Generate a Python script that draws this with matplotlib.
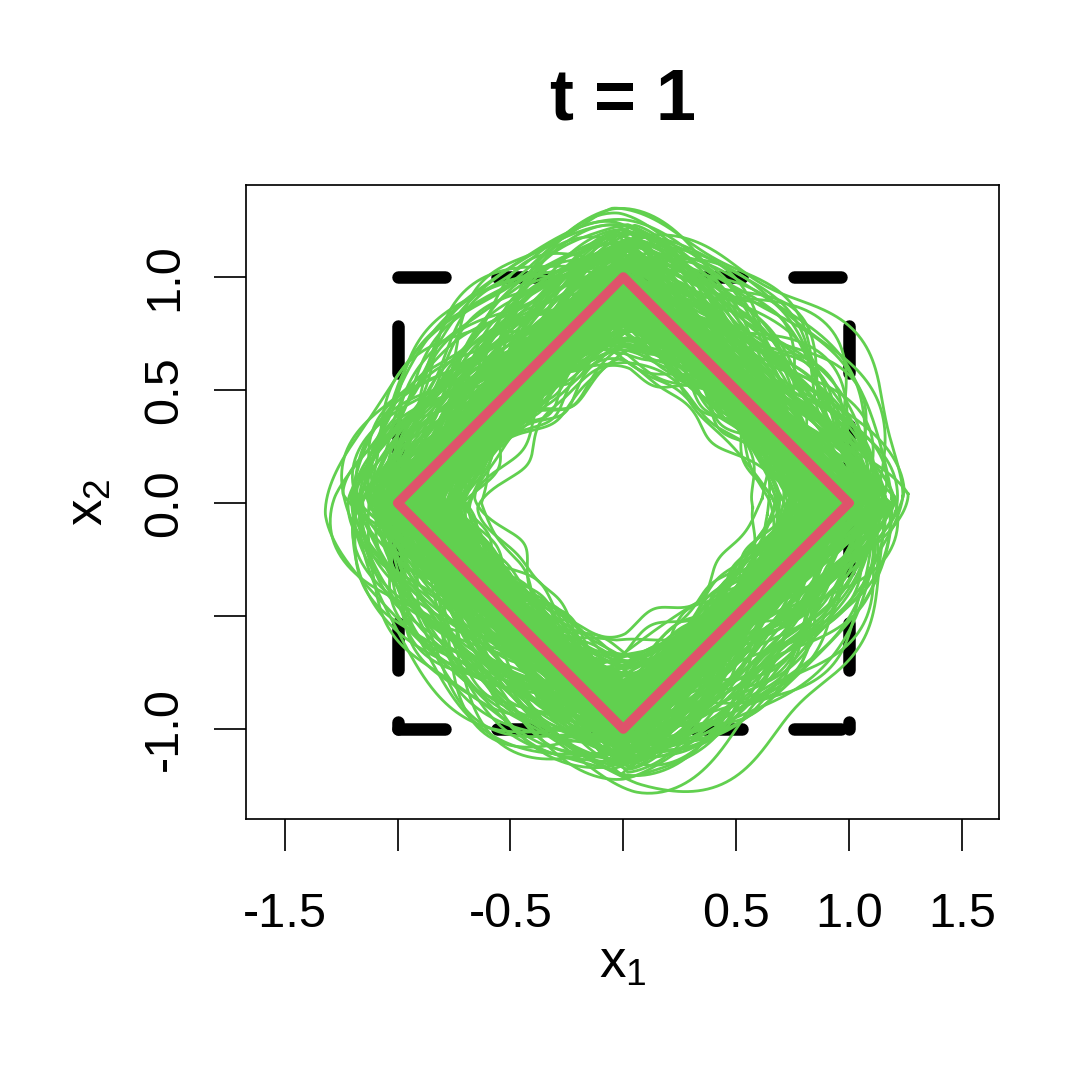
import numpy as np
import matplotlib
matplotlib.use("Agg")
import matplotlib.pyplot as plt
from matplotlib.transforms import blended_transform_factory

# ---------------- data ----------------
title_text = "t = 1"
x_ticks = [-1.5, -1.0, -0.5, 0.0, 0.5, 1.0, 1.5]
x_tick_labels = ["-1.5", "", "-0.5", "", "0.5", "1.0", "1.5"]
y_ticks = [-1.0, -0.5, 0.0, 0.5, 1.0]
y_tick_labels = ["-1.0", "", "0.0", "0.5", "1.0"]

# true curve (diamond) and bounding square
diamond_x = [1.0, 0.0, -1.0, 0.0, 1.0]
diamond_y = [0.0, 1.0, 0.0, -1.0, 0.0]
square_x = [-1.0, 1.0, 1.0, -1.0]
square_y = [1.0, 1.0, -1.0, -1.0]

# ---- group A of sampled closed curves (harmonics 2, 3, 5, 9) ----
scale = [0.95, 1.02, 0.88, 1.08, 0.92, 0.99, 1.05, 0.84, 0.97, 1.10,
         0.90, 1.03, 0.86, 0.94, 1.07, 0.81, 1.00, 0.93, 1.12, 0.89,
         0.96, 0.78, 1.04, 0.91, 0.99, 1.09, 0.87, 0.95, 1.01, 0.83,
         0.98, 1.06, 0.92, 0.74, 1.03, 0.90, 0.97, 1.11, 0.85, 0.94,
         1.00, 0.88, 1.05, 0.93, 0.80, 1.08, 0.96, 0.91, 1.02, 0.86,
         0.70, 0.99, 1.04, 0.89, 0.95, 1.13, 0.84, 0.98, 1.06, 0.92,
         0.64, 1.08, 0.76, 1.18, 0.68, 1.20, 0.62, 1.16, 0.71, 1.15,
         0.94, 1.01, 0.87, 1.07, 0.90, 0.97, 1.03, 0.82, 0.99, 1.10]
roundness = [1.05, 1.10, 1.00, 1.20, 1.15, 1.00, 1.08, 1.25, 1.02, 1.40,
             1.18, 1.00, 1.30, 1.06, 1.10, 1.35, 1.00, 1.14, 1.45, 1.22,
             1.00, 1.20, 1.08, 1.16, 1.03, 1.30, 1.28, 1.00, 1.12, 1.32,
             1.07, 1.00, 1.20, 1.22, 1.04, 1.15, 1.00, 1.50, 1.26, 1.11,
             1.00, 1.24, 1.06, 1.13, 1.38, 1.02, 1.10, 1.18, 1.00, 1.27,
             1.30, 1.05, 1.00, 1.22, 1.12, 1.45, 1.30, 1.00, 1.14, 1.19,
             1.35, 1.60, 1.20, 1.55, 1.30, 1.35, 1.40, 1.60, 1.25, 1.55,
             1.08, 1.00, 1.21, 1.04, 1.16, 1.10, 1.00, 1.28, 1.06, 1.35]
shift_x = [0.02, -0.03, 0.01, -0.05, 0.04, 0.00, -0.02, 0.03, -0.04, 0.05,
           -0.01, 0.02, -0.06, 0.03, 0.00, 0.04, -0.03, 0.01, -0.02, 0.05,
           0.03, -0.04, 0.00, 0.02, -0.05, 0.01, 0.04, -0.02, 0.03, -0.01,
           0.00, 0.05, -0.03, 0.02, -0.04, 0.01, 0.03, -0.06, 0.02, 0.00,
           -0.02, 0.04, 0.01, -0.03, 0.05, -0.01, 0.02, 0.00, -0.04, 0.03,
           0.01, -0.02, 0.04, 0.00, -0.05, 0.02, -0.01, 0.03, 0.00, -0.03,
           0.03, -0.10, 0.02, 0.08, -0.02, -0.05, 0.01, 0.06, 0.04, -0.08,
           0.02, -0.01, 0.03, -0.04, 0.00, 0.05, -0.02, 0.01, -0.03, 0.04]
shift_y = [-0.02, 0.03, 0.00, -0.04, 0.02, 0.05, -0.01, 0.03, -0.03, 0.00,
           0.04, -0.02, 0.01, -0.05, 0.03, 0.00, 0.02, -0.04, 0.01, -0.03,
           0.00, 0.02, -0.03, 0.04, 0.01, -0.05, 0.00, 0.03, -0.02, 0.04,
           0.02, -0.01, 0.04, -0.03, 0.00, 0.03, -0.04, 0.01, 0.05, -0.02,
           0.03, 0.00, -0.02, 0.02, -0.04, 0.01, 0.03, -0.03, 0.00, 0.04,
           -0.03, 0.02, 0.00, -0.01, 0.04, -0.04, 0.02, 0.00, 0.03, -0.02,
           -0.02, -0.06, 0.01, 0.03, -0.04, 0.07, 0.02, -0.05, 0.00, -0.05,
           0.01, 0.03, -0.02, 0.00, 0.04, -0.03, 0.02, -0.01, 0.03, -0.04]
amp2 = [0.03, 0.05, 0.02, 0.06, 0.01, 0.04, 0.07, 0.02, 0.05, 0.03,
        0.06, 0.01, 0.04, 0.08, 0.02, 0.05, 0.03, 0.06, 0.02, 0.04,
        0.05, 0.03, 0.07, 0.01, 0.04, 0.06, 0.02, 0.05, 0.03, 0.08,
        0.02, 0.04, 0.06, 0.03, 0.05, 0.01, 0.07, 0.04, 0.02, 0.06,
        0.04, 0.06, 0.02, 0.05, 0.03, 0.07, 0.01, 0.04, 0.06, 0.02,
        0.05, 0.03, 0.06, 0.02, 0.04, 0.05, 0.03, 0.07, 0.01, 0.04,
        0.06, 0.09, 0.04, 0.05, 0.07, 0.08, 0.05, 0.06, 0.03, 0.07,
        0.03, 0.05, 0.02, 0.06, 0.04, 0.01, 0.05, 0.03, 0.07, 0.02]
phase2 = [0.4, 2.1, 5.0, 1.3, 3.7, 0.9, 4.4, 2.8, 6.0, 1.7,
          3.2, 5.5, 0.2, 2.5, 4.8, 1.1, 3.9, 0.6, 5.2, 2.3,
          4.1, 1.5, 3.0, 5.8, 0.8, 2.7, 4.6, 1.9, 3.5, 6.1,
          1.0, 3.3, 5.6, 0.3, 2.0, 4.3, 1.4, 3.8, 5.1, 2.6,
          5.9, 0.7, 2.4, 4.0, 1.6, 3.1, 5.4, 0.5, 2.9, 4.7,
          1.2, 3.6, 0.1, 2.2, 4.9, 1.8, 3.4, 5.7, 0.9, 2.0,
          2.5, 5.6, 4.2, 0.8, 5.3, 2.0, 1.0, 4.0, 3.0, 5.6,
          0.6, 2.8, 4.5, 1.5, 3.2, 5.0, 0.3, 2.1, 4.1, 1.3]
amp3 = [0.02, 0.04, 0.01, 0.03, 0.05, 0.02, 0.03, 0.04, 0.01, 0.05,
        0.03, 0.02, 0.04, 0.01, 0.03, 0.05, 0.02, 0.04, 0.03, 0.01,
        0.04, 0.03, 0.02, 0.05, 0.01, 0.03, 0.04, 0.02, 0.05, 0.03,
        0.01, 0.04, 0.03, 0.02, 0.05, 0.04, 0.01, 0.03, 0.02, 0.04,
        0.03, 0.05, 0.02, 0.04, 0.03, 0.01, 0.04, 0.05, 0.02, 0.03,
        0.04, 0.02, 0.03, 0.01, 0.05, 0.03, 0.04, 0.02, 0.03, 0.05,
        0.04, 0.05, 0.03, 0.04, 0.05, 0.03, 0.04, 0.05, 0.02, 0.02,
        0.02, 0.03, 0.05, 0.01, 0.04, 0.02, 0.03, 0.04, 0.01, 0.03]
phase3 = [1.1, 4.2, 2.6, 5.7, 0.4, 3.3, 1.9, 4.8, 0.2, 2.9,
          5.1, 0.8, 3.6, 2.2, 4.5, 1.4, 6.0, 2.7, 0.5, 3.9,
          2.0, 5.3, 0.9, 3.1, 4.7, 1.6, 2.4, 5.9, 0.1, 3.5,
          4.0, 1.3, 5.6, 2.8, 0.6, 3.8, 4.9, 1.0, 2.5, 5.2,
          0.3, 2.7, 4.4, 1.8, 5.5, 0.7, 3.0, 4.3, 1.5, 6.1,
          3.4, 0.5, 2.1, 4.6, 1.2, 5.8, 2.9, 0.2, 3.7, 4.1,
          1.7, 4.9, 0.4, 3.2, 2.3, 5.4, 1.1, 3.6, 4.5, 0.9,
          2.2, 5.0, 1.5, 3.9, 0.7, 2.6, 4.8, 1.2, 5.3, 3.0]
amp5 = [0.05, 0.02, 0.07, 0.04, 0.05, 0.08, 0.02, 0.04, 0.07, 0.05,
        0.04, 0.07, 0.05, 0.02, 0.08, 0.04, 0.05, 0.07, 0.04, 0.02,
        0.05, 0.08, 0.04, 0.07, 0.02, 0.05, 0.04, 0.08, 0.05, 0.07,
        0.07, 0.04, 0.02, 0.08, 0.05, 0.04, 0.07, 0.02, 0.05, 0.08,
        0.04, 0.05, 0.08, 0.02, 0.07, 0.05, 0.04, 0.05, 0.08, 0.02,
        0.05, 0.07, 0.04, 0.08, 0.02, 0.04, 0.07, 0.05, 0.02, 0.05,
        0.08, 0.05, 0.07, 0.04, 0.07, 0.05, 0.08, 0.04, 0.07, 0.03,
        0.02, 0.07, 0.04, 0.05, 0.08, 0.04, 0.02, 0.07, 0.05, 0.04]
phase5 = [2.3, 0.7, 4.1, 5.6, 1.5, 3.2, 6.0, 2.8, 0.3, 4.6,
          1.0, 3.7, 5.3, 2.1, 0.5, 4.4, 1.8, 5.9, 3.0, 0.9,
          4.8, 2.5, 0.1, 3.6, 5.0, 1.3, 2.7, 4.2, 0.6, 5.7,
          3.3, 1.1, 4.9, 0.4, 2.9, 5.4, 1.6, 3.8, 0.2, 2.4,
          5.2, 0.8, 3.4, 4.7, 1.9, 6.1, 2.6, 0.5, 4.0, 1.4,
          0.9, 4.3, 2.0, 5.5, 3.1, 0.3, 4.6, 1.7, 5.8, 2.2,
          3.9, 1.2, 5.1, 2.7, 0.6, 4.4, 2.0, 5.3, 1.5, 3.6,
          2.8, 5.0, 0.4, 3.5, 1.9, 4.7, 0.8, 2.3, 5.6, 1.2]
amp9 = [0.025, 0.040, 0.015, 0.030, 0.045, 0.025, 0.040, 0.015, 0.030, 0.045,
        0.030, 0.015, 0.040, 0.045, 0.025, 0.030, 0.015, 0.040, 0.045, 0.025,
        0.040, 0.030, 0.025, 0.015, 0.045, 0.040, 0.030, 0.025, 0.015, 0.040,
        0.015, 0.045, 0.030, 0.040, 0.025, 0.015, 0.045, 0.030, 0.040, 0.025,
        0.045, 0.025, 0.040, 0.030, 0.015, 0.045, 0.025, 0.040, 0.030, 0.015,
        0.030, 0.040, 0.015, 0.025, 0.045, 0.030, 0.040, 0.015, 0.025, 0.045,
        0.040, 0.030, 0.045, 0.025, 0.040, 0.030, 0.045, 0.025, 0.040, 0.010,
        0.025, 0.015, 0.045, 0.040, 0.030, 0.025, 0.015, 0.045, 0.030, 0.040]
phase9 = [0.5, 3.1, 1.8, 4.6, 2.4, 5.7, 0.9, 3.8, 5.2, 1.3,
          2.9, 0.2, 4.3, 1.6, 5.5, 3.4, 0.7, 2.1, 4.9, 6.0,
          1.4, 4.0, 2.7, 0.3, 5.1, 1.9, 3.6, 5.8, 0.8, 2.5,
          4.4, 1.0, 5.9, 3.2, 0.6, 2.2, 4.7, 1.5, 3.9, 5.3,
          2.0, 5.6, 0.4, 3.7, 1.2, 4.1, 2.8, 6.1, 0.1, 3.3,
          5.0, 2.6, 4.5, 0.9, 3.5, 1.7, 5.4, 2.3, 4.8, 0.5,
          3.0, 1.1, 4.2, 5.9, 2.2, 0.7, 3.8, 1.4, 5.5, 2.9,
          1.6, 4.9, 0.2, 2.6, 5.3, 3.5, 1.0, 4.4, 2.0, 5.8]

# ---- group B of sampled closed curves (harmonics 2, 4, 6, 8) ----
band_scale = [0.80, 0.86, 0.92, 0.98, 1.04, 1.10, 0.83, 0.89, 0.95, 1.01,
              1.07, 1.14, 0.78, 0.85, 0.91, 0.97, 1.03, 1.09, 0.82, 0.88,
              0.94, 1.00, 1.06, 1.12, 0.79, 0.87, 0.93, 0.99, 1.05, 1.11,
              0.81, 0.84, 0.90, 0.96, 1.02, 1.08, 1.16, 0.77, 0.86, 0.92,
              0.98, 1.04, 1.10, 0.83, 0.89, 0.95, 1.01, 1.07, 1.13, 0.80,
              0.85, 0.91, 0.97, 1.03, 1.09, 0.76, 0.88, 0.94, 1.00, 1.06,
              1.15, 0.82, 0.87, 0.93, 0.99, 1.05, 1.11, 0.79, 0.84, 0.90,
              0.96, 1.02, 1.08, 1.17, 0.81, 0.86, 0.92, 0.98, 1.04, 1.10,
              0.75, 0.83, 0.89, 0.95, 1.01, 1.07, 1.13, 0.80, 0.90, 1.00]
band_round = [1.30, 1.20, 1.10, 1.05, 1.00, 1.08, 1.25, 1.15, 1.02, 1.00,
              1.06, 1.12, 1.35, 1.22, 1.12, 1.04, 1.00, 1.10, 1.28, 1.18,
              1.06, 1.00, 1.03, 1.15, 1.32, 1.20, 1.08, 1.00, 1.05, 1.18,
              1.26, 1.24, 1.14, 1.02, 1.00, 1.09, 1.22, 1.38, 1.19, 1.10,
              1.00, 1.04, 1.12, 1.27, 1.16, 1.06, 1.00, 1.07, 1.20, 1.30,
              1.21, 1.13, 1.03, 1.00, 1.11, 1.40, 1.17, 1.05, 1.00, 1.08,
              1.25, 1.26, 1.19, 1.09, 1.00, 1.02, 1.14, 1.33, 1.23, 1.12,
              1.04, 1.00, 1.10, 1.28, 1.29, 1.20, 1.11, 1.01, 1.03, 1.15,
              1.42, 1.24, 1.16, 1.06, 1.00, 1.09, 1.21, 1.31, 1.13, 1.02]
band_shift_x = [0.03, -0.02, 0.01, -0.04, 0.05, 0.00, -0.03, 0.02, -0.01, 0.04,
                -0.05, 0.02, 0.00, 0.03, -0.02, 0.04, -0.04, 0.01, 0.05, -0.03,
                0.00, -0.01, 0.04, -0.05, 0.02, 0.03, -0.02, 0.05, -0.04, 0.01,
                0.02, 0.04, -0.03, 0.00, -0.05, 0.03, 0.01, -0.02, 0.04, -0.01,
                -0.04, 0.05, 0.02, -0.03, 0.00, -0.01, 0.03, -0.05, 0.02, 0.04,
                0.01, -0.04, 0.03, 0.05, -0.02, 0.00, 0.04, -0.03, 0.01, -0.05,
                0.05, 0.02, -0.01, -0.04, 0.03, 0.01, -0.05, 0.04, 0.00, -0.02,
                -0.03, 0.00, 0.05, 0.02, -0.04, 0.03, -0.01, 0.01, -0.05, 0.04,
                0.02, -0.03, 0.04, -0.02, 0.01, -0.04, 0.05, 0.00, 0.03, -0.01]
band_shift_y = [-0.01, 0.04, -0.03, 0.02, 0.00, -0.05, 0.03, 0.01, -0.04, 0.05,
                0.02, -0.02, 0.04, -0.04, 0.01, 0.03, -0.01, 0.05, -0.03, 0.00,
                0.04, -0.05, 0.02, 0.00, -0.02, 0.01, 0.05, -0.04, 0.03, -0.01,
                -0.03, 0.01, 0.00, 0.05, 0.02, -0.04, 0.04, -0.02, -0.05, 0.03,
                0.05, -0.01, -0.04, 0.03, 0.02, 0.00, -0.03, 0.04, 0.01, -0.05,
                -0.02, 0.03, 0.05, -0.03, 0.04, 0.01, -0.05, 0.00, 0.02, -0.01,
                0.00, -0.04, 0.02, 0.04, -0.01, 0.05, 0.03, -0.03, -0.02, 0.01,
                0.04, 0.02, -0.05, 0.01, 0.03, -0.02, 0.00, 0.05, -0.04, 0.02,
                -0.03, 0.05, 0.01, -0.01, -0.04, 0.02, 0.03, -0.05, 0.00, 0.04]
band_amp2 = [0.02, 0.04, 0.01, 0.03, 0.05, 0.02, 0.06, 0.03, 0.01, 0.04,
             0.05, 0.02, 0.03, 0.06, 0.01, 0.04, 0.02, 0.05, 0.03, 0.01,
             0.04, 0.06, 0.02, 0.03, 0.05, 0.01, 0.04, 0.02, 0.06, 0.03,
             0.01, 0.05, 0.03, 0.04, 0.02, 0.06, 0.01, 0.03, 0.05, 0.02,
             0.04, 0.01, 0.06, 0.02, 0.03, 0.05, 0.04, 0.01, 0.02, 0.06,
             0.03, 0.05, 0.01, 0.04, 0.06, 0.02, 0.03, 0.05, 0.01, 0.04,
             0.02, 0.06, 0.04, 0.01, 0.03, 0.05, 0.02, 0.04, 0.06, 0.03,
             0.05, 0.01, 0.03, 0.06, 0.02, 0.04, 0.05, 0.01, 0.03, 0.02,
             0.04, 0.02, 0.05, 0.03, 0.01, 0.06, 0.02, 0.04, 0.03, 0.05]
band_ph2 = [3.0, 0.5, 4.7, 2.2, 5.9, 1.4, 3.8, 0.2, 2.6, 5.1,
            1.7, 4.3, 0.9, 3.5, 6.0, 2.0, 4.9, 1.1, 3.2, 5.6,
            0.4, 2.8, 5.3, 1.9, 4.1, 0.7, 3.6, 6.2, 2.4, 4.6,
            1.2, 3.9, 0.1, 2.9, 5.4, 1.6, 4.4, 0.8, 3.3, 5.8,
            2.1, 4.8, 1.3, 3.7, 0.3, 2.7, 5.0, 1.8, 4.2, 0.6,
            3.4, 5.7, 2.3, 0.9, 4.5, 1.5, 3.1, 5.5, 0.2, 2.5,
            4.0, 1.0, 3.6, 5.2, 2.0, 4.7, 0.5, 2.8, 5.9, 1.4,
            3.8, 0.7, 4.3, 2.2, 5.6, 1.1, 3.0, 4.9, 0.4, 2.6,
            5.1, 1.9, 3.5, 0.6, 4.4, 2.4, 5.8, 1.2, 3.9, 0.0]
band_amp4 = [0.03, 0.05, 0.02, 0.04, 0.06, 0.01, 0.03, 0.05, 0.04, 0.02,
             0.06, 0.03, 0.01, 0.05, 0.02, 0.04, 0.06, 0.03, 0.02, 0.05,
             0.01, 0.04, 0.06, 0.02, 0.03, 0.05, 0.01, 0.04, 0.03, 0.06,
             0.02, 0.05, 0.03, 0.01, 0.06, 0.04, 0.02, 0.05, 0.03, 0.01,
             0.04, 0.06, 0.02, 0.03, 0.05, 0.01, 0.04, 0.02, 0.06, 0.03,
             0.05, 0.01, 0.04, 0.06, 0.02, 0.03, 0.05, 0.04, 0.01, 0.06,
             0.03, 0.02, 0.05, 0.04, 0.06, 0.01, 0.03, 0.05, 0.02, 0.04,
             0.06, 0.03, 0.01, 0.05, 0.04, 0.02, 0.06, 0.03, 0.05, 0.01,
             0.02, 0.04, 0.06, 0.03, 0.01, 0.05, 0.04, 0.02, 0.06, 0.03]
band_ph4 = [0.8, 3.4, 5.9, 2.1, 4.6, 1.2, 3.8, 0.4, 2.9, 5.3,
            1.7, 4.2, 0.1, 2.6, 5.0, 1.5, 3.9, 6.1, 2.3, 4.8,
            0.6, 3.1, 5.6, 1.9, 4.4, 0.9, 3.6, 5.8, 2.0, 4.1,
            1.3, 3.7, 0.2, 2.8, 5.2, 1.0, 4.5, 0.5, 3.3, 5.7,
            2.4, 4.9, 1.4, 3.0, 5.5, 0.7, 2.7, 4.3, 1.8, 6.0,
            0.3, 3.5, 5.1, 2.2, 4.7, 1.1, 3.2, 5.9, 0.8, 2.5,
            4.0, 1.6, 3.9, 0.6, 2.9, 5.4, 1.9, 4.6, 0.2, 3.1,
            5.7, 2.0, 4.3, 1.3, 3.6, 6.2, 0.9, 2.4, 4.9, 1.5,
            3.7, 0.4, 2.6, 5.0, 1.2, 4.2, 0.0, 3.4, 5.6, 2.1]
band_amp6 = [0.04, 0.02, 0.06, 0.03, 0.05, 0.07, 0.02, 0.04, 0.06, 0.03,
             0.05, 0.07, 0.03, 0.02, 0.06, 0.04, 0.03, 0.05, 0.07, 0.02,
             0.06, 0.03, 0.04, 0.07, 0.02, 0.05, 0.06, 0.03, 0.04, 0.02,
             0.07, 0.04, 0.05, 0.03, 0.06, 0.02, 0.07, 0.04, 0.03, 0.05,
             0.02, 0.06, 0.04, 0.05, 0.03, 0.07, 0.02, 0.06, 0.04, 0.03,
             0.05, 0.03, 0.07, 0.02, 0.04, 0.06, 0.05, 0.03, 0.07, 0.04,
             0.03, 0.05, 0.02, 0.06, 0.04, 0.03, 0.07, 0.02, 0.05, 0.06,
             0.04, 0.07, 0.03, 0.05, 0.02, 0.06, 0.04, 0.07, 0.03, 0.05,
             0.06, 0.02, 0.04, 0.07, 0.05, 0.03, 0.06, 0.04, 0.02, 0.05]
band_ph6 = [2.7, 5.2, 0.6, 3.9, 1.4, 4.8, 2.1, 5.7, 0.3, 3.3,
            1.0, 4.4, 2.6, 6.0, 0.8, 3.6, 5.1, 1.7, 4.0, 2.3,
            5.5, 0.2, 3.0, 4.6, 1.9, 5.9, 0.5, 2.8, 4.3, 1.2,
            3.7, 6.1, 1.5, 4.9, 0.9, 2.4, 5.3, 3.1, 0.1, 4.2,
            1.8, 3.4, 5.8, 0.7, 2.9, 4.5, 1.1, 3.8, 6.2, 2.0,
            4.7, 0.4, 2.2, 5.0, 3.5, 1.3, 4.1, 0.0, 2.5, 5.6,
            0.9, 3.2, 5.4, 1.6, 4.3, 2.7, 6.0, 0.6, 3.0, 4.8,
            2.2, 5.1, 0.3, 3.7, 1.5, 4.6, 2.9, 5.9, 1.0, 3.4,
            4.4, 1.7, 3.9, 0.2, 5.3, 2.0, 4.0, 0.8, 2.6, 5.5]
band_amp8 = [0.02, 0.04, 0.03, 0.01, 0.05, 0.02, 0.04, 0.03, 0.05, 0.01,
             0.03, 0.02, 0.05, 0.04, 0.01, 0.03, 0.02, 0.04, 0.05, 0.03,
             0.04, 0.01, 0.03, 0.05, 0.02, 0.04, 0.03, 0.01, 0.02, 0.05,
             0.05, 0.03, 0.02, 0.04, 0.03, 0.01, 0.05, 0.02, 0.04, 0.03,
             0.01, 0.05, 0.04, 0.02, 0.03, 0.04, 0.01, 0.05, 0.03, 0.02,
             0.03, 0.04, 0.01, 0.05, 0.02, 0.03, 0.04, 0.02, 0.01, 0.05,
             0.02, 0.03, 0.05, 0.01, 0.04, 0.02, 0.03, 0.05, 0.04, 0.01,
             0.04, 0.02, 0.03, 0.05, 0.01, 0.04, 0.02, 0.03, 0.05, 0.02,
             0.03, 0.05, 0.02, 0.04, 0.03, 0.01, 0.05, 0.02, 0.04, 0.03]
band_ph8 = [1.9, 4.5, 0.7, 3.2, 5.8, 2.4, 0.1, 3.6, 5.0, 1.3,
            4.1, 0.9, 2.7, 5.5, 1.6, 3.9, 6.0, 2.2, 4.7, 0.4,
            3.0, 5.6, 1.2, 4.3, 0.6, 2.8, 5.2, 1.8, 3.4, 6.1,
            0.8, 2.5, 4.9, 1.4, 3.7, 5.9, 0.3, 2.9, 4.4, 1.0,
            5.3, 2.0, 3.5, 0.5, 4.8, 1.7, 3.1, 5.7, 0.2, 2.6,
            4.0, 1.1, 5.4, 2.3, 0.8, 3.8, 1.5, 4.6, 6.2, 2.1,
            0.6, 3.3, 5.0, 1.9, 4.2, 0.0, 2.7, 5.1, 1.3, 3.9,
            5.8, 2.4, 0.4, 3.5, 1.8, 4.9, 2.9, 0.7, 4.4, 1.6,
            3.2, 5.5, 1.0, 2.8, 6.0, 0.3, 4.7, 2.2, 3.6, 5.2]

# ---- group C of sampled closed curves (harmonics 3, 5, 7) ----
c_scale = [0.70, 0.98, 1.12, 0.85, 1.05, 0.79, 0.93, 1.16, 0.88, 1.01,
           0.76, 1.08, 0.95, 0.82, 1.14, 0.90, 0.69, 1.03, 0.97, 1.10,
           0.84, 0.78, 1.06, 0.92, 1.18, 0.87, 0.99, 0.75, 1.11, 0.94,
           1.02, 0.81, 1.15, 0.89, 0.77, 1.07, 0.96, 0.83, 1.13, 0.91,
           0.66, 1.04, 0.86, 1.17, 0.98, 0.80, 1.09, 0.93, 0.76, 1.12,
           0.88, 1.00, 0.70, 1.06, 0.95, 0.84, 1.15, 0.79, 1.03, 0.90,
           1.10, 0.77, 0.97, 1.14, 0.86, 0.68, 1.01, 0.92, 1.08, 0.82,
           0.96, 1.16, 0.75, 0.89, 1.05, 0.99, 0.80, 1.12, 0.87, 0.94,
           1.07, 0.78, 1.02, 0.91, 1.13, 0.85, 0.76, 1.00, 0.93, 1.09]
c_round = [1.45, 1.10, 1.50, 1.25, 1.30, 1.40, 1.05, 1.65, 1.20, 1.00,
           1.50, 1.35, 1.15, 1.30, 1.55, 1.08, 1.55, 1.02, 1.18, 1.45,
           1.28, 1.42, 1.25, 1.12, 1.70, 1.22, 1.00, 1.48, 1.40, 1.06,
           1.15, 1.35, 1.60, 1.10, 1.45, 1.28, 1.04, 1.32, 1.52, 1.16,
           1.60, 1.10, 1.24, 1.62, 1.08, 1.38, 1.36, 1.00, 1.44, 1.48,
           1.14, 1.20, 1.52, 1.32, 1.02, 1.26, 1.58, 1.36, 1.18, 1.12,
           1.42, 1.40, 1.06, 1.56, 1.20, 1.50, 1.12, 1.04, 1.30, 1.34,
           1.00, 1.66, 1.46, 1.18, 1.24, 1.14, 1.30, 1.44, 1.08, 1.22,
           1.34, 1.48, 1.06, 1.26, 1.50, 1.16, 1.42, 1.10, 1.20, 1.38]
c_shift_x = [-0.03, 0.04, 0.00, -0.05, 0.02, 0.03, -0.01, 0.05, -0.04, 0.01,
             0.02, -0.03, 0.05, 0.00, -0.02, 0.04, -0.05, 0.01, 0.03, -0.04,
             0.05, -0.01, -0.03, 0.02, 0.00, -0.05, 0.04, 0.01, -0.02, 0.03,
             -0.04, 0.00, 0.02, 0.05, -0.03, 0.01, -0.01, 0.04, -0.05, 0.02,
             0.01, -0.02, 0.04, -0.04, 0.03, 0.00, 0.05, -0.03, 0.02, -0.01,
             0.04, 0.02, -0.05, 0.01, -0.02, 0.05, 0.00, -0.04, 0.03, -0.01,
             -0.02, 0.05, 0.01, -0.03, 0.04, -0.01, 0.02, 0.00, -0.05, 0.03,
             0.00, -0.04, 0.03, 0.02, -0.01, 0.05, -0.03, 0.01, 0.04, -0.02,
             0.03, 0.01, -0.02, -0.05, 0.00, 0.04, 0.02, -0.03, 0.05, -0.04]
c_shift_y = [0.02, -0.04, 0.05, 0.01, -0.03, 0.00, 0.04, -0.02, 0.03, -0.05,
             -0.01, 0.03, 0.00, -0.04, 0.05, 0.02, -0.03, 0.04, -0.02, 0.01,
             0.00, 0.05, -0.01, -0.03, 0.02, 0.04, -0.05, 0.03, 0.01, -0.02,
             0.04, -0.02, 0.03, 0.00, -0.05, 0.01, 0.05, -0.03, 0.02, -0.04,
             -0.05, 0.01, -0.02, 0.03, 0.04, -0.01, 0.00, 0.05, -0.04, 0.02,
             0.03, -0.03, 0.01, 0.05, -0.02, 0.00, -0.04, 0.02, 0.04, -0.05,
             0.01, 0.00, -0.05, 0.04, -0.01, 0.03, -0.03, 0.05, 0.02, 0.00,
             -0.03, 0.02, 0.04, -0.05, 0.01, -0.02, 0.03, 0.00, -0.04, 0.05,
             0.05, -0.04, 0.02, 0.01, -0.03, 0.04, 0.00, -0.01, 0.03, -0.02]
c_amp3 = [0.03, 0.01, 0.04, 0.02, 0.05, 0.03, 0.01, 0.04, 0.02, 0.05,
          0.02, 0.04, 0.01, 0.05, 0.03, 0.02, 0.04, 0.01, 0.03, 0.05,
          0.04, 0.02, 0.05, 0.01, 0.03, 0.04, 0.02, 0.05, 0.01, 0.03,
          0.01, 0.05, 0.03, 0.04, 0.02, 0.01, 0.05, 0.03, 0.04, 0.02,
          0.05, 0.03, 0.02, 0.01, 0.04, 0.05, 0.03, 0.02, 0.01, 0.04,
          0.02, 0.04, 0.05, 0.03, 0.01, 0.02, 0.04, 0.05, 0.03, 0.01,
          0.04, 0.01, 0.03, 0.05, 0.02, 0.04, 0.01, 0.03, 0.05, 0.02,
          0.03, 0.05, 0.02, 0.04, 0.01, 0.03, 0.05, 0.02, 0.04, 0.01,
          0.01, 0.03, 0.04, 0.02, 0.05, 0.01, 0.03, 0.04, 0.02, 0.05]
c_ph3 = [4.3, 1.2, 5.8, 2.7, 0.4, 3.6, 6.0, 1.9, 4.8, 0.9,
         3.1, 5.5, 2.2, 0.6, 4.0, 1.5, 5.2, 2.9, 0.1, 3.8,
         1.7, 4.6, 0.3, 3.3, 5.9, 2.4, 0.8, 4.2, 1.1, 5.6,
         2.0, 4.9, 1.4, 3.7, 0.5, 6.1, 2.6, 5.0, 0.2, 3.4,
         5.3, 0.7, 3.0, 1.8, 4.5, 0.0, 2.3, 5.7, 1.3, 4.1,
         0.9, 3.5, 6.2, 2.1, 4.7, 1.6, 3.9, 0.4, 5.4, 2.8,
         4.4, 1.0, 3.2, 5.8, 0.6, 2.5, 4.9, 1.7, 3.6, 6.0,
         2.2, 5.1, 0.8, 3.9, 1.4, 4.6, 0.2, 2.7, 5.5, 1.2,
         3.7, 0.5, 4.3, 2.0, 5.9, 1.1, 3.4, 6.1, 0.7, 4.8]
c_amp5 = [0.05, 0.03, 0.06, 0.02, 0.07, 0.04, 0.05, 0.03, 0.06, 0.02,
          0.07, 0.04, 0.02, 0.06, 0.03, 0.05, 0.07, 0.02, 0.04, 0.06,
          0.03, 0.06, 0.04, 0.07, 0.02, 0.05, 0.03, 0.06, 0.07, 0.04,
          0.06, 0.02, 0.05, 0.03, 0.07, 0.04, 0.02, 0.06, 0.05, 0.03,
          0.04, 0.07, 0.03, 0.05, 0.06, 0.02, 0.04, 0.07, 0.03, 0.05,
          0.02, 0.05, 0.07, 0.04, 0.03, 0.06, 0.05, 0.02, 0.07, 0.04,
          0.06, 0.03, 0.04, 0.02, 0.05, 0.07, 0.03, 0.06, 0.04, 0.05,
          0.07, 0.04, 0.06, 0.05, 0.02, 0.03, 0.07, 0.04, 0.06, 0.02,
          0.03, 0.06, 0.02, 0.07, 0.04, 0.05, 0.06, 0.03, 0.02, 0.07]
c_ph5 = [1.4, 4.7, 0.2, 3.0, 5.6, 2.3, 0.8, 4.1, 6.0, 1.9,
         3.5, 0.6, 5.2, 2.8, 1.1, 4.4, 0.0, 3.7, 5.9, 2.5,
         0.7, 3.9, 1.6, 4.8, 2.2, 5.5, 0.3, 3.2, 1.8, 4.6,
         5.1, 2.0, 4.3, 0.9, 3.6, 6.1, 1.3, 4.9, 2.6, 0.4,
         2.9, 5.7, 0.5, 3.4, 1.7, 4.0, 6.2, 2.1, 5.0, 0.8,
         4.5, 1.2, 3.8, 0.1, 5.3, 2.7, 4.2, 1.0, 3.3, 5.8,
         0.6, 3.1, 5.4, 2.4, 0.2, 4.7, 1.5, 3.9, 6.0, 2.2,
         3.6, 0.9, 4.4, 1.8, 5.6, 2.9, 0.4, 4.1, 1.3, 5.0,
         1.9, 4.8, 2.6, 5.9, 0.7, 3.5, 5.2, 0.3, 2.8, 4.3]
c_amp7 = [0.03, 0.05, 0.02, 0.04, 0.03, 0.06, 0.02, 0.05, 0.04, 0.03,
          0.04, 0.02, 0.06, 0.03, 0.05, 0.02, 0.04, 0.06, 0.03, 0.05,
          0.06, 0.04, 0.03, 0.05, 0.02, 0.03, 0.06, 0.04, 0.05, 0.02,
          0.02, 0.06, 0.04, 0.03, 0.05, 0.04, 0.03, 0.02, 0.06, 0.05,
          0.05, 0.03, 0.05, 0.06, 0.02, 0.04, 0.05, 0.03, 0.02, 0.06,
          0.04, 0.02, 0.03, 0.05, 0.06, 0.03, 0.02, 0.05, 0.04, 0.03,
          0.03, 0.06, 0.05, 0.02, 0.04, 0.05, 0.06, 0.03, 0.02, 0.04,
          0.05, 0.03, 0.02, 0.06, 0.03, 0.04, 0.05, 0.02, 0.06, 0.04,
          0.02, 0.04, 0.06, 0.03, 0.05, 0.02, 0.04, 0.06, 0.05, 0.03]
c_ph7 = [5.0, 2.3, 0.6, 3.8, 1.5, 4.4, 6.1, 2.7, 0.2, 3.3,
         1.8, 4.9, 3.0, 0.7, 5.6, 2.1, 4.0, 1.2, 5.3, 0.4,
         3.6, 0.9, 5.8, 2.5, 4.3, 1.6, 0.1, 3.9, 2.2, 6.0,
         4.7, 1.4, 3.2, 5.5, 0.8, 2.9, 5.1, 0.3, 4.2, 1.7,
         2.4, 5.9, 1.0, 4.6, 3.4, 0.5, 2.6, 5.2, 3.7, 1.1,
         0.0, 3.1, 4.8, 1.9, 6.2, 2.8, 0.6, 4.5, 1.3, 3.5,
         5.7, 2.0, 0.4, 3.6, 1.8, 5.0, 2.4, 6.0, 0.9, 4.1,
         1.5, 4.3, 2.7, 0.2, 5.4, 3.0, 1.1, 4.7, 2.0, 5.8,
         3.3, 0.8, 5.5, 2.2, 4.0, 1.3, 6.1, 2.9, 0.5, 3.8]

# ---------------- styling ----------------
W = 1066
DPI = W / 7.0
PT = 72.0 / DPI           # points per pixel
GREEN = "#61D04F"
RED = "#DF536B"
FONT = "Liberation Sans"

plt.rcParams["font.family"] = [FONT, "DejaVu Sans"]
plt.rcParams["lines.scale_dashes"] = False

fig = plt.figure(figsize=(7, 7), dpi=DPI)
ax = fig.add_axes([246 / W, 1 - 819 / W, (999 - 246) / W, (819 - 185) / W])
ax.set_xlim(-1.672, 1.665)
ax.set_ylim(-1.398, 1.407)

# dashed square (each side separately)
sq_lw = 12.5 * PT
on, off = 47 * PT, 52 * PT
n = len(square_x)
for k in range(n):
    x0, y0 = square_x[k], square_y[k]
    x1, y1 = square_x[(k + 1) % n], square_y[(k + 1) % n]
    if y0 == y1:  # horizontal: left -> right, dash starts at the corner
        xs = sorted([x0, x1]); ys = [y0, y1]
        offset = 0.0
    else:         # vertical: top -> bottom, starts in a gap
        xs = [x0, x1]; ys = sorted([y0, y1], reverse=True)
        offset = 50 * PT
    ax.plot(xs, ys, color="black", lw=sq_lw,
            linestyle=(offset, (on, off)), dash_capstyle="round",
            solid_capstyle="round", zorder=1)

theta = np.linspace(0, 2 * np.pi, 721)
green_lw = 2.8 * PT


def draw_curve(s, p, cx, cy, harmonics):
    base = (np.abs(np.cos(theta)) ** p + np.abs(np.sin(theta)) ** p) ** (-1.0 / p)
    mod = np.ones_like(theta)
    for k, a, ph in harmonics:
        mod = mod + a * np.cos(k * theta - ph)
    r = s * base * mod
    ax.plot(cx + r * np.cos(theta), cy + r * np.sin(theta),
            color=GREEN, lw=green_lw, zorder=2)


for i in range(len(scale)):
    draw_curve(scale[i], roundness[i], shift_x[i], shift_y[i],
               [(2, amp2[i], phase2[i]), (3, amp3[i], phase3[i]),
                (5, amp5[i], phase5[i]), (9, amp9[i], phase9[i])])
for i in range(len(band_scale)):
    draw_curve(band_scale[i], band_round[i], band_shift_x[i], band_shift_y[i],
               [(2, band_amp2[i], band_ph2[i]), (4, band_amp4[i], band_ph4[i]),
                (6, band_amp6[i], band_ph6[i]), (8, band_amp8[i], band_ph8[i])])
for i in range(len(c_scale)):
    draw_curve(c_scale[i], c_round[i], c_shift_x[i], c_shift_y[i],
               [(3, c_amp3[i], c_ph3[i]), (5, c_amp5[i], c_ph5[i]),
                (7, c_amp7[i], c_ph7[i])])

# red true diamond
ax.plot(diamond_x, diamond_y, color=RED, lw=9.5 * PT,
        solid_joinstyle="round", solid_capstyle="round", zorder=3)

# axes frame and ticks
for s in ax.spines.values():
    s.set_linewidth(1.7 * PT)
ax.set_xticks(x_ticks)
ax.set_yticks(y_ticks)
ax.tick_params(direction="out", length=32 * PT, width=1.7 * PT,
               labelbottom=False, labelleft=False)

FS_TICK = 23.0
FS_LAB = 25.0
FS_TITLE = 34.0

tx = blended_transform_factory(ax.transData, fig.transFigure)
for v, lab in zip(x_ticks, x_tick_labels):
    if lab:
        ax.text(v, 1 - 927 / W, lab, transform=tx, ha="center", va="baseline",
                fontsize=FS_TICK, fontfamily=FONT)
ty = blended_transform_factory(fig.transFigure, ax.transData)
for v, lab in zip(y_ticks, y_tick_labels):
    if lab:
        ax.text(177 / W, v, lab, transform=ty, rotation=90, rotation_mode="anchor",
                ha="center", va="baseline", fontsize=FS_TICK, fontfamily=FONT)

fig.text(622.5 / W, 1 - 119 / W, title_text, ha="center", va="baseline",
         fontsize=FS_TITLE, fontweight="bold", fontfamily=FONT)
fig.text(622.5 / W, 1 - 978 / W, r"$\mathregular{x_1}$", ha="center", va="baseline",
         fontsize=FS_LAB, fontfamily=FONT)
fig.text(103 / W, 1 - 502 / W, r"$\mathregular{x_2}$", rotation=90, rotation_mode="anchor",
         ha="center", va="baseline", fontsize=FS_LAB, fontfamily=FONT)

fig.savefig("out.png", dpi=DPI, facecolor="white")
